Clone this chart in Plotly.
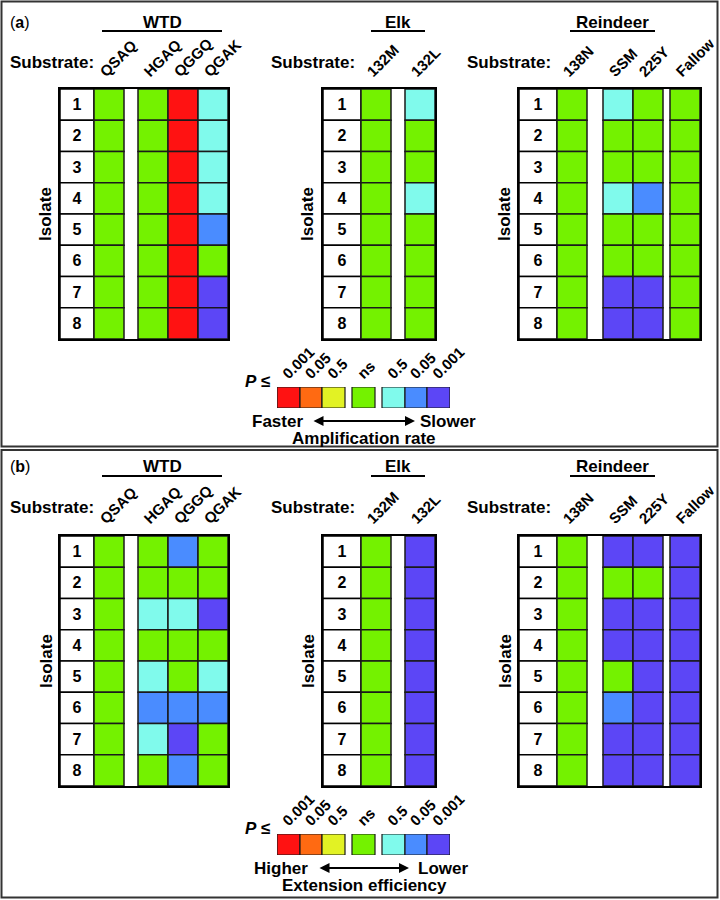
import plotly.graph_objects as go

# ---------------- data ----------------
isolates = [1, 2, 3, 4, 5, 6, 7, 8]
wtd_substrates = ["QSAQ", "HGAQ", "QGGQ", "QGAK"]
elk_substrates = ["132M", "132L"]
reindeer_substrates = ["138N", "SSM", "225Y", "Fallow"]

# significance codes: -3,-2,-1 = faster/higher (P<=0.001, 0.05, 0.5); 0 = ns;
# 1,2,3 = slower/lower (P<=0.5, 0.05, 0.001)
legend_codes = [-3, -2, -1, 0, 1, 2, 3]
legend_labels = ["0.001", "0.05", "0.5", "ns", "0.5", "0.05", "0.001"]

# (a) amplification rate
a_wtd = {
    "QSAQ": [0, 0, 0, 0, 0, 0, 0, 0],
    "HGAQ": [0, 0, 0, 0, 0, 0, 0, 0],
    "QGGQ": [-3, -3, -3, -3, -3, -3, -3, -3],
    "QGAK": [1, 1, 1, 1, 2, 0, 3, 3],
}
a_elk = {
    "132M": [0, 0, 0, 0, 0, 0, 0, 0],
    "132L": [1, 0, 0, 1, 0, 0, 0, 0],
}
a_reindeer = {
    "138N": [0, 0, 0, 0, 0, 0, 0, 0],
    "SSM": [1, 0, 0, 1, 0, 0, 3, 3],
    "225Y": [0, 0, 0, 2, 0, 0, 3, 3],
    "Fallow": [0, 0, 0, 0, 0, 0, 0, 0],
}
# (b) extension efficiency
b_wtd = {
    "QSAQ": [0, 0, 0, 0, 0, 0, 0, 0],
    "HGAQ": [0, 0, 1, 0, 1, 2, 1, 0],
    "QGGQ": [2, 0, 1, 0, 0, 2, 3, 2],
    "QGAK": [0, 0, 3, 0, 1, 2, 0, 0],
}
b_elk = {
    "132M": [0, 0, 0, 0, 0, 0, 0, 0],
    "132L": [3, 3, 3, 3, 3, 3, 3, 3],
}
b_reindeer = {
    "138N": [0, 0, 0, 0, 0, 0, 0, 0],
    "SSM": [3, 0, 3, 3, 0, 2, 3, 3],
    "225Y": [3, 0, 3, 3, 3, 3, 3, 3],
    "Fallow": [3, 3, 3, 3, 3, 3, 3, 3],
}

# ---------------- style ----------------
COLORS = {
    -3: "#FF1212",
    -2: "#FF6A12",
    -1: "#E2F224",
    0: "#74F200",
    1: "#80FAEC",
    2: "#4A8CFF",
    3: "#5C46F6",
}
FONT = "Liberation Sans, Arial, sans-serif"
W, H = 720, 900
CELL_W = 30
BORDER = "#1a1a1a"
LABEL_SHIFT = 8  # rotated column labels start slightly left of the column centre

fig = go.Figure()
axes_layout = {}
counter = [0]


def new_axes(px_x0, px_x1, px_y0, px_y1, xr, yr, xkw=None, ykw=None):
    counter[0] += 1
    k = counter[0]
    sx = "" if k == 1 else str(k)
    xkw = xkw or {}
    ykw = ykw or {}
    axes_layout["xaxis" + sx] = dict(
        domain=[px_x0 / W, px_x1 / W], range=xr, anchor="y" + sx,
        automargin=False, showgrid=False, zeroline=False, fixedrange=True, **xkw)
    axes_layout["yaxis" + sx] = dict(
        domain=[1 - px_y1 / H, 1 - px_y0 / H], range=yr, anchor="x" + sx,
        automargin=False, showgrid=False, zeroline=False, fixedrange=True, **ykw)
    return "x" + sx, "y" + sx


def add_grid(left, top, label_w, gaps, subs, values, height=250):
    centers = []
    x = label_w
    for j, s in enumerate(subs):
        x += gaps.get(j, 0)
        centers.append(x + CELL_W / 2)
        x += CELL_W
    total = x
    frame = dict(showline=True, mirror=True, linecolor="black", linewidth=2)
    xr, yr = new_axes(
        left, left + total, top, top + height, [0, total], [8.5, 0.5],
        xkw=dict(side="top", tickmode="array",
                 tickvals=[c - LABEL_SHIFT for c in centers], ticktext=subs,
                 tickangle=-45, ticks="", ticklabelstandoff=1,
                 ticklabeloverflow="allow",
                 tickfont=dict(family=FONT, size=15, color="black", weight="bold"),
                 **frame),
        ykw=dict(showticklabels=False, ticks="", **frame))
    base = [i - 0.5 for i in isolates]
    ones = [1 for _ in isolates]
    fig.add_trace(go.Bar(
        x=[label_w / 2 for _ in isolates], y=ones, base=base, width=label_w,
        marker=dict(color="white", line=dict(color="black", width=1.5)),
        text=[str(i) for i in isolates], textposition="inside",
        insidetextanchor="middle", textangle=0,
        textfont=dict(family=FONT, size=16, color="black", weight="bold"),
        xaxis=xr, yaxis=yr, hoverinfo="skip", showlegend=False))
    for c, s in zip(centers, subs):
        fig.add_trace(go.Bar(
            x=[c for _ in isolates], y=ones, base=base, width=CELL_W,
            marker=dict(color=[COLORS[v] for v in values[s]],
                        line=dict(color=BORDER, width=1.5)),
            xaxis=xr, yaxis=yr, hoverinfo="skip", showlegend=False))


def add_legend(left, top):
    widths = [23, 22, 23, 23, 23, 22, 23]
    gaps = {3: 7, 4: 7}
    centers = []
    x = 0
    for j, w in enumerate(widths):
        x += gaps.get(j, 0)
        centers.append(x + w / 2)
        x += w
    xr, yr = new_axes(
        left, left + x, top, top + 21, [0, x], [0, 1],
        xkw=dict(side="top", tickmode="array",
                 tickvals=[c - 5 for c in centers],
                 ticktext=legend_labels, tickangle=-45, ticks="",
                 ticklabelstandoff=1, ticklabeloverflow="allow",
                 tickfont=dict(family=FONT, size=15, color="black", weight="bold"),
                 showline=False),
        ykw=dict(showticklabels=False, ticks="", showline=False))
    fig.add_trace(go.Bar(
        x=centers, y=[1 for _ in legend_codes], base=[0 for _ in legend_codes],
        width=widths,
        marker=dict(color=[COLORS[c] for c in legend_codes],
                    line=dict(color=BORDER, width=1.2)),
        xaxis=xr, yaxis=yr, hoverinfo="skip", showlegend=False))


annotations = []
shapes = []


def text(x, y, s, size=16, xanchor="center", angle=0):
    annotations.append(dict(
        x=x / W, y=1 - y / H, xref="paper", yref="paper", text=s,
        showarrow=False, xanchor=xanchor, yanchor="middle", textangle=angle,
        font=dict(family=FONT, size=size, color="black")))


def hline(x0, x1, y):
    shapes.append(dict(type="line", xref="paper", yref="paper",
                       x0=x0 / W, x1=x1 / W, y0=1 - y / H, y1=1 - y / H,
                       line=dict(color="black", width=2)))


def arrow(x0, x1, y):
    annotations.append(dict(
        x=x1 / W, y=1 - y / H, xref="paper", yref="paper", text="",
        showarrow=True, ax=x0 - x1, ay=0, arrowside="end+start",
        arrowhead=2, startarrowhead=2, arrowsize=1, startarrowsize=1,
        arrowwidth=2, arrowcolor="black", standoff=0, startstandoff=0))


panels = [
    ("a", 0, 89, (a_wtd, a_elk, a_reindeer), ("Faster", "Slower", "Amplification rate"),
     (305, 312, 415, 418)),
    ("b", 445, 536, (b_wtd, b_elk, b_reindeer), ("Higher", "Lower", "Extension efficiency"),
     (310, 318, 409, 416)),
]

for tag, dy, top, (vw, ve, vr), (lt, rt, title), (lx, a0, a1, rx) in panels:
    add_grid(60, top, 34, {1: 14}, wtd_substrates, vw)
    add_grid(323, top, 38, {1: 14}, elk_substrates, ve)
    add_grid(519, top, 38, {1: 16, 3: 7}, reindeer_substrates, vr)
    add_legend(277, 298 + top)

    text(8, 22 + dy, "(<b>%s</b>)" % tag, 16, "left")
    text(162, 22 + dy, "<b>WTD</b>", 17)
    text(398, 22 + dy, "<b>Elk</b>", 17)
    text(612, 22 + dy, "<b>Reindeer</b>", 17)
    hline(102, 222, 31 + dy)
    hline(371, 425, 31 + dy)
    hline(570, 655, 31 + dy)
    text(8, 62 + dy, "<b>Substrate:</b>", 17, "left")
    text(269, 62 + dy, "<b>Substrate:</b>", 17, "left")
    text(465, 62 + dy, "<b>Substrate:</b>", 17, "left")
    for xi in (46, 308, 505):
        text(xi, top + 125, "<b>Isolate</b>", 17, angle=-90)
    text(257, 292 + top, "<b><i>P</i> ≤</b>", 17)
    ly = 332 + top
    text(lx, ly, "<b>%s</b>" % lt, 17, "right")
    text(rx, ly, "<b>%s</b>" % rt, 17, "left")
    arrow(a0, a1, ly)
    text(364, ly + 17, "<b>%s</b>" % title, 17)

# panel frames
shapes.append(dict(type="rect", xref="paper", yref="paper",
                   x0=1.5 / W, x1=717.5 / W, y0=1 - 1.5 / H, y1=1 - 446.5 / H,
                   line=dict(color="#333333", width=2)))
shapes.append(dict(type="rect", xref="paper", yref="paper",
                   x0=1.5 / W, x1=717.5 / W, y0=1 - 450 / H, y1=1 - 897.5 / H,
                   line=dict(color="#333333", width=2)))

fig.update_layout(
    template="none",
    width=W, height=H, margin=dict(l=0, r=0, t=0, b=0, pad=0, autoexpand=False),
    paper_bgcolor="white", plot_bgcolor="white", barmode="overlay",
    showlegend=False, annotations=annotations, shapes=shapes,
    font=dict(family=FONT, color="black"),
    **axes_layout)

fig.write_html(
    "out.html",
    config={"displayModeBar": False, "responsive": False},
    post_script="document.body.style.margin='0';document.body.style.overflow='hidden';")
